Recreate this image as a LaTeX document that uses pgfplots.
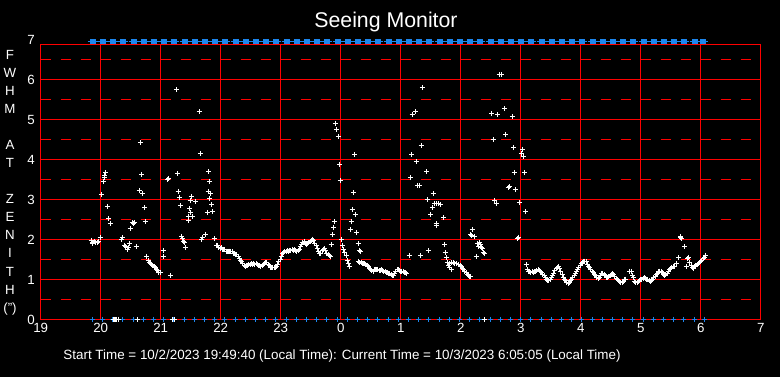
\documentclass[border=0pt]{standalone}
\usepackage{fontspec}
\setmainfont{Liberation Sans}
\usepackage{pgfplots}
\pgfplotsset{compat=1.18}
\definecolor{mblue}{RGB}{28,134,238}
\definecolor{gridred}{RGB}{255,0,0}
\pgfdeclarelayer{bg}
\pgfsetlayers{bg,main}
\pgfdeclareplotmark{sixplus}{%
  \pgfpathmoveto{\pgfpoint{-\pgfplotmarksize}{0pt}}%
  \pgfpathlineto{\pgfpoint{5pt+\pgfplotmarksize}{0pt}}%
  \pgfpathmoveto{\pgfpoint{0pt}{-\pgfplotmarksize}}\pgfpathlineto{\pgfpoint{0pt}{\pgfplotmarksize}}%
  \pgfpathmoveto{\pgfpoint{1pt}{-\pgfplotmarksize}}\pgfpathlineto{\pgfpoint{1pt}{\pgfplotmarksize}}%
  \pgfpathmoveto{\pgfpoint{2pt}{-\pgfplotmarksize}}\pgfpathlineto{\pgfpoint{2pt}{\pgfplotmarksize}}%
  \pgfpathmoveto{\pgfpoint{3pt}{-\pgfplotmarksize}}\pgfpathlineto{\pgfpoint{3pt}{\pgfplotmarksize}}%
  \pgfpathmoveto{\pgfpoint{4pt}{-\pgfplotmarksize}}\pgfpathlineto{\pgfpoint{4pt}{\pgfplotmarksize}}%
  \pgfpathmoveto{\pgfpoint{5pt}{-\pgfplotmarksize}}\pgfpathlineto{\pgfpoint{5pt}{\pgfplotmarksize}}%
  \pgfusepathqstroke
}
\begin{document}
\begin{tikzpicture}
\begin{axis}[
  at={(40.7pt,57.5pt)}, anchor=south west,
  scale only axis, width=720pt, height=275pt,
  xmin=19, xmax=31, ymin=0, ymax=6.875,
  clip=false,
  axis line style={gridred, line width=1pt},
  xtick={19,20,21,22,23,24,25,26,27,28,29,30,31},
  xticklabels={19,20,21,22,23,0,1,2,3,4,5,6,7},
  ytick={0,1,2,3,4,5,6},
  major tick length=0pt, minor tick length=0pt,
  xmajorgrids=true,
  major x grid style={draw=gridred, line width=1pt},
  tick label style={text=white, font=\fontsize{13.3}{16}\selectfont},
  yticklabel style={xshift=-2.5pt},
  /pgf/number format/assume math mode=true,
]
% top band of blue markers (blocks every ~10 minutes)
\addplot[only marks, mark=sixplus, mark size=2.5pt, draw=mblue, mark options={line width=1pt, draw=mblue}] coordinates {
(19.825,6.95)(19.995,6.95)(20.165,6.95)(20.335,6.95)(20.505,6.95)(20.675,6.95)(20.845,6.95)(21.015,6.95)(21.185,6.95)(21.355,6.95)
(21.525,6.95)(21.695,6.95)(21.865,6.95)(22.035,6.95)(22.205,6.95)(22.375,6.95)(22.545,6.95)(22.715,6.95)(22.885,6.95)(23.055,6.95)
(23.225,6.95)(23.395,6.95)(23.565,6.95)(23.735,6.95)(23.905,6.95)(24.075,6.95)(24.245,6.95)(24.415,6.95)(24.585,6.95)(24.755,6.95)
(24.925,6.95)(25.095,6.95)(25.265,6.95)(25.435,6.95)(25.605,6.95)(25.775,6.95)(25.945,6.95)(26.115,6.95)(26.285,6.95)(26.455,6.95)
(26.625,6.95)(26.795,6.95)(26.965,6.95)(27.135,6.95)(27.305,6.95)(27.475,6.95)(27.645,6.95)(27.815,6.95)(27.985,6.95)(28.155,6.95)
(28.325,6.95)(28.495,6.95)(28.665,6.95)(28.835,6.95)(29.005,6.95)(29.175,6.95)(29.345,6.95)(29.515,6.95)(29.685,6.95)(29.855,6.95)
(29.995,6.95)
};
% bottom blue markers
\addplot[only marks, mark=+, mark size=2.5pt, mark options={line width=1pt, draw=mblue}] coordinates {
(19.86,0)(20.03,0)(20.20,0)(20.37,0)(20.54,0)(20.71,0)(20.88,0)(21.05,0)(21.22,0)(21.39,0)
(21.56,0)(21.73,0)(21.90,0)(22.07,0)(22.24,0)(22.41,0)(22.58,0)(22.75,0)(22.92,0)(23.09,0)
(23.26,0)(23.43,0)(23.60,0)(23.77,0)(23.94,0)(24.11,0)(24.28,0)(24.45,0)(24.62,0)(24.79,0)
(24.96,0)(25.13,0)(25.30,0)(25.47,0)(25.64,0)(25.81,0)(25.98,0)(26.15,0)(26.32,0)(26.49,0)
(26.66,0)(26.83,0)(27.00,0)(27.17,0)(27.34,0)(27.51,0)(27.68,0)(27.85,0)(28.02,0)(28.19,0)
(28.36,0)(28.53,0)(28.70,0)(28.87,0)(29.04,0)(29.21,0)(29.38,0)(29.55,0)(29.72,0)(29.89,0)
(30.06,0)
};
% FWHM measurements
\addplot[only marks, mark=+, mark size=2.5pt, mark options={line width=1pt, draw=white}] coordinates {
(20.21,0)(20.23,0)(20.25,0)(20.27,0)(20.29,0)(20.61,0)(21.20,0)(21.23,0)(26.39,0)
(19.84,1.98)(19.86,1.92)(19.87,1.90)(19.89,1.96)(19.92,1.93)(19.94,1.92)(19.96,1.95)(19.99,2.06)
(20.01,3.12)(20.05,3.45)(20.06,3.55)(20.07,3.60)(20.08,3.67)(20.11,2.82)(20.13,2.52)(20.16,2.40)
(20.34,2.00)(20.36,2.04)(20.40,1.86)(20.42,1.83)(20.44,1.75)(20.46,1.80)(20.48,1.89)(20.49,2.27)
(20.53,2.42)(20.55,2.40)(20.57,2.43)(20.59,1.82)
(20.64,3.22)(20.66,4.42)(20.68,3.62)(20.69,3.14)(20.73,2.79)(20.74,2.44)(20.77,1.58)
(20.79,1.47)(20.81,1.43)(20.83,1.40)(20.85,1.38)(20.87,1.36)(20.89,1.33)(20.91,1.30)(20.93,1.25)(20.95,1.22)(20.97,1.18)(20.99,1.17)
(21.04,1.72)(21.04,1.58)(21.16,1.09)
(21.11,3.50)(21.13,3.52)(21.26,5.74)(21.28,3.64)(21.29,3.20)(21.31,3.04)(21.33,2.84)
(21.35,2.08)(21.37,2.02)(21.38,1.94)(21.40,1.92)(21.42,1.79)
(21.46,2.58)(21.47,2.47)(21.48,2.77)(21.49,2.97)(21.50,2.67)(21.51,3.07)(21.53,2.57)(21.58,2.95)
(21.64,5.19)(21.66,4.14)(21.68,2.01)(21.70,2.05)(21.74,2.13)
(21.78,2.67)(21.79,3.20)(21.80,3.69)(21.81,3.02)(21.82,3.45)(21.83,3.14)(21.85,2.87)(21.87,2.69)(21.89,2.02)
(21.93,1.86)(21.95,1.84)(21.97,1.80)(21.99,1.78)(22.01,1.79)(22.03,1.76)(22.05,1.75)(22.07,1.74)(22.09,1.71)(22.11,1.70)(22.13,1.70)
(22.15,1.71)(22.17,1.69)(22.19,1.70)(22.21,1.66)(22.23,1.65)(22.25,1.63)(22.27,1.62)(22.29,1.57)(22.31,1.52)(22.33,1.48)
(22.35,1.44)(22.37,1.40)(22.39,1.36)(22.41,1.33)(22.43,1.36)(22.45,1.35)(22.47,1.37)(22.49,1.38)(22.51,1.39)(22.53,1.37)
(22.55,1.40)(22.57,1.38)(22.59,1.39)(22.61,1.37)(22.63,1.35)(22.65,1.34)(22.67,1.33)(22.69,1.36)(22.71,1.38)(22.73,1.41)
(22.75,1.43)(22.77,1.42)(22.79,1.38)(22.81,1.34)(22.83,1.30)(22.85,1.29)(22.87,1.29)(22.89,1.29)(22.91,1.30)(22.93,1.33)
(22.95,1.38)(22.97,1.45)(22.99,1.50)(23.01,1.57)(23.03,1.64)(23.05,1.68)(23.07,1.70)(23.09,1.69)(23.11,1.72)(23.13,1.71)
(23.15,1.73)(23.17,1.72)(23.19,1.74)(23.21,1.73)(23.23,1.74)(23.25,1.72)(23.27,1.70)(23.29,1.72)(23.31,1.76)(23.33,1.82)
(23.35,1.88)(23.37,1.92)(23.39,1.95)(23.41,1.90)(23.43,1.88)(23.45,1.90)(23.47,1.92)(23.49,1.94)(23.51,1.97)(23.53,2.01)
(23.55,1.98)(23.57,1.90)(23.59,1.85)(23.61,1.78)(23.63,1.70)(23.65,1.64)(23.67,1.66)(23.69,1.72)(23.71,1.76)(23.73,1.77)
(23.75,1.72)(23.77,1.66)(23.79,1.62)(23.81,1.60)(23.83,1.57)
(23.84,1.88)(23.86,2.12)(23.88,2.29)(23.89,2.44)(23.91,4.89)(23.93,4.74)(23.96,4.57)(23.98,3.87)(23.99,3.47)(24.01,1.99)
(24.03,1.86)(24.05,1.75)(24.07,1.68)(24.09,1.59)(24.11,1.47)(24.13,1.40)(24.14,1.33)
(24.16,2.24)(24.18,2.44)(24.19,2.74)(24.21,3.17)(24.23,4.12)(24.24,2.62)(24.26,2.17)(24.29,1.89)(24.31,1.73)(24.33,1.69)
(24.30,1.45)(24.32,1.42)(24.34,1.43)(24.36,1.40)(24.38,1.41)(24.40,1.39)(24.42,1.38)(24.44,1.36)(24.46,1.33)(24.48,1.28)
(24.50,1.25)(24.52,1.22)(24.54,1.21)(24.56,1.24)(24.58,1.26)(24.60,1.24)(24.62,1.25)(24.64,1.23)(24.66,1.22)(24.68,1.24)
(24.70,1.23)(24.72,1.21)(24.74,1.19)(24.76,1.17)(24.78,1.18)(24.80,1.16)(24.82,1.14)(24.84,1.12)(24.86,1.11)(24.88,1.10)
(24.90,1.14)(24.92,1.19)(24.94,1.24)(24.96,1.25)(24.98,1.22)(25.00,1.20)(25.02,1.21)(25.04,1.20)(25.06,1.18)(25.08,1.17)(25.10,1.16)
(25.14,1.59)(25.16,3.54)(25.18,4.12)(25.19,5.12)(25.24,5.19)(25.26,3.94)(25.28,3.34)(25.31,3.34)(25.33,1.59)(25.34,4.34)
(25.36,5.79)(25.43,3.69)(25.44,2.99)(25.46,1.72)(25.50,2.62)(25.53,2.79)(25.54,3.14)(25.57,2.89)(25.60,2.89)(25.63,2.89)
(25.66,2.87)(25.59,2.39)(25.60,2.36)(25.71,2.54)
(25.73,1.87)(25.74,1.67)(25.76,1.54)(25.78,1.42)(25.80,1.35)(25.81,1.29)
(25.82,1.40)(25.85,1.43)(25.85,1.25)(25.88,1.43)(25.90,1.41)(25.93,1.40)(25.96,1.37)(25.99,1.35)(26.01,1.33)(26.03,1.28)
(26.05,1.24)(26.07,1.21)(26.09,1.17)(26.11,1.13)(26.13,1.10)(26.15,1.07)(26.16,1.07)
(26.17,2.12)(26.18,2.10)(26.19,2.24)(26.23,2.07)(26.26,1.57)(26.28,1.91)(26.31,1.92)(26.33,1.87)(26.30,1.83)(26.35,1.79)
(26.37,1.77)(26.38,1.67)(26.40,1.65)
(26.52,5.14)(26.54,4.49)(26.57,2.98)(26.59,2.89)(26.61,5.12)(26.64,6.12)(26.68,6.12)(26.73,5.27)(26.75,4.62)(26.79,3.30)
(26.82,3.32)(26.86,5.07)(26.88,4.29)(26.89,3.67)(26.91,3.24)(26.94,2.02)(26.96,2.06)(26.98,2.92)(27.01,4.15)(27.03,4.25)
(27.04,4.08)(27.06,3.67)(27.08,2.69)(27.09,1.37)
(27.11,1.24)(27.13,1.21)(27.15,1.20)(27.17,1.18)(27.19,1.19)(27.21,1.18)(27.23,1.20)(27.25,1.19)(27.27,1.22)(27.29,1.24)
(27.31,1.23)(27.33,1.20)(27.35,1.18)(27.37,1.13)(27.39,1.09)(27.41,1.05)(27.43,1.01)(27.45,0.98)(27.47,0.97)(27.49,0.99)
(27.51,1.04)(27.53,1.10)(27.55,1.16)(27.57,1.22)(27.59,1.27)(27.61,1.30)(27.63,1.32)(27.65,1.28)(27.67,1.21)(27.69,1.13)
(27.71,1.06)(27.73,1.01)(27.75,0.97)(27.77,0.93)(27.79,0.90)(27.81,0.92)(27.83,0.97)(27.85,1.01)(27.87,1.06)(27.89,1.10)
(27.91,1.15)(27.93,1.20)(27.95,1.25)(27.97,1.30)(27.99,1.35)(28.01,1.39)(28.03,1.42)(28.05,1.45)(28.07,1.46)(28.09,1.44)
(28.11,1.38)(28.13,1.33)(28.15,1.29)(28.17,1.25)(28.19,1.21)(28.21,1.17)(28.23,1.13)(28.25,1.09)(28.27,1.05)(28.29,1.02)
(28.31,1.05)(28.33,1.10)(28.35,1.14)(28.37,1.14)(28.39,1.13)(28.41,1.09)(28.43,1.06)(28.45,1.05)(28.47,1.07)(28.49,1.10)
(28.51,1.13)(28.53,1.14)(28.55,1.12)(28.57,1.07)(28.59,1.03)(28.61,1.00)(28.63,0.97)(28.65,0.94)(28.67,0.92)(28.69,0.93)
(28.71,0.96)(28.73,0.99)(28.75,1.01)(28.81,1.21)(28.82,1.19)(28.84,1.20)(28.86,1.10)(28.88,1.06)(28.90,0.95)(28.92,0.92)
(28.94,0.93)(28.96,0.95)(28.98,0.97)(29.00,0.99)(29.02,1.01)(29.04,1.03)(29.06,1.04)(29.08,1.03)(29.10,1.01)(29.12,0.99)
(29.14,0.97)(29.16,0.96)(29.18,0.98)(29.20,1.01)(29.22,1.04)(29.24,1.08)(29.26,1.12)(29.28,1.16)(29.30,1.19)(29.32,1.21)
(29.34,1.20)(29.36,1.17)(29.38,1.13)(29.40,1.10)(29.42,1.12)(29.44,1.16)(29.46,1.20)(29.48,1.24)(29.50,1.27)(29.52,1.30)
(29.54,1.33)(29.57,1.32)(29.60,1.40)(29.63,1.54)(29.66,2.07)(29.67,2.05)(29.68,2.02)(29.73,1.82)(29.76,1.33)(29.78,1.52)
(29.79,1.55)(29.82,1.42)(29.84,1.35)(29.86,1.30)(29.88,1.27)(29.90,1.33)(29.92,1.36)(29.94,1.38)(29.96,1.39)(29.98,1.42)
(30.00,1.44)(30.02,1.47)(30.04,1.52)(30.06,1.56)(30.08,1.60)
};
\node[anchor=east, text=white, font=\fontsize{13.3}{16}\selectfont, xshift=-2.5pt] at (axis cs:19,7) {7};
\end{axis}
\begin{pgfonlayer}{bg}
\fill[black] (0,0) rectangle (780pt,377pt);
\foreach \yy in {97.5,137.5,177.5,217.5,257.5,297.5}{
  \draw[draw=gridred, line width=1pt] (40.7pt,\yy pt) -- (760.7pt,\yy pt);
}
\foreach \yy in {77.5,117.5,157.5,197.5,237.5,277.5,317.5}{
  \draw[draw=gridred, line width=1pt, dash pattern=on 10pt off 10pt] (40.7pt,\yy pt) -- (760.7pt,\yy pt);
}
\end{pgfonlayer}
\node[anchor=base, text=white, font=\fontsize{21.3}{24}\selectfont] at (386pt,349pt) {Seeing Monitor};
\node[anchor=base, text=white, font=\fontsize{13.4}{16}\selectfont] at (342pt,17pt) {Start Time = 10/2/2023 19:49:40 (Local Time): Current Time = 10/3/2023 6:05:05 (Local Time)};
\node[anchor=center, text=white, align=center, font=\fontsize{13.3}{18.07}\selectfont] at (10pt,194.5pt) {F\\W\\H\\M\\~\\A\\T\\~\\Z\\E\\N\\I\\T\\H\\(")};
\pgfresetboundingbox
\useasboundingbox (0,0) rectangle (780pt,377pt);
\end{tikzpicture}
\end{document}
